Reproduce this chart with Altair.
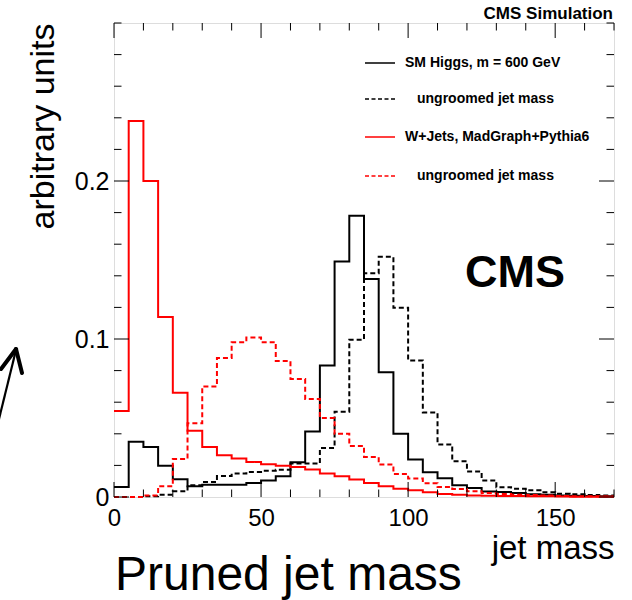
import altair as alt
import pandas as pd

# ---------------- data ----------------
bin_edges = list(range(0, 170, 5))  # left edges of 5-unit bins, 0..165
x_max = 170

higgs_pruned = [0.0064, 0.035, 0.0316, 0.0197, 0.0112, 0.0068, 0.0078, 0.0078, 0.0078, 0.0089,
                0.0104, 0.0131, 0.022, 0.0414, 0.0832, 0.149, 0.178, 0.138, 0.079, 0.040,
                0.0238, 0.0156, 0.0119, 0.0075, 0.0057, 0.0035, 0.0032, 0.0025, 0.0017, 0.0015,
                0.0010, 0.0008, 0.0006, 0.0004]
higgs_ungroomed = [0.0, 0.0, 0.0004, 0.0015, 0.0036, 0.0074, 0.0095, 0.0133, 0.0148, 0.0159,
                   0.0166, 0.0172, 0.0212, 0.0212, 0.031, 0.054, 0.0996, 0.1416, 0.152, 0.1197,
                   0.0864, 0.0535, 0.0333, 0.0227, 0.0161, 0.0105, 0.0062, 0.0053, 0.0042, 0.003,
                   0.0021, 0.0017, 0.0013, 0.001]
wjets_pruned = [0.0545, 0.238, 0.200, 0.114, 0.066, 0.042, 0.0316, 0.0265, 0.0244, 0.0222,
                0.0208, 0.0197, 0.0190, 0.0174, 0.0149, 0.0132, 0.011, 0.0089, 0.0068, 0.0052,
                0.0042, 0.003, 0.0019, 0.0015, 0.001, 0.0008, 0.0006, 0.0006, 0.0004, 0.0004,
                0.0003, 0.0002, 0.0002, 0.0002]
wjets_ungroomed = [0.0, 0.0, 0.001, 0.0068, 0.024, 0.0466, 0.070, 0.088, 0.098, 0.101,
                   0.098, 0.086, 0.0747, 0.062, 0.050, 0.040, 0.0323, 0.0253, 0.0206, 0.0146,
                   0.0117, 0.0087, 0.0064, 0.0051, 0.0036, 0.0025, 0.0019, 0.0015, 0.0012, 0.0009,
                   0.0007, 0.0005, 0.0004, 0.0003]

series_labels = ["SM Higgs, m = 600 GeV", "ungroomed jet mass",
                 "W+Jets, MadGraph+Pythia6", "ungroomed jet mass"]
x_tick_labels = [0, 50, 100, 150]
y_tick_labels = [0, 0.1, 0.2]
x_minor_ticks = list(range(0, 171, 10))
y_minor_ticks = [round(0.02 * i, 2) for i in range(0, 16)]

# ---------------- layout ----------------
W, H = 500, 474
FONT = "Liberation Sans"
MAJ, MIN = 15, 7.5

xscale = alt.Scale(domain=[0, x_max], nice=False, zero=False)
yscale = alt.Scale(domain=[0, 0.3], nice=False)

x_axis = alt.Axis(values=x_tick_labels, title="jet mass", titleFont=FONT, titleFontSize=33,
                  titleFontWeight="normal", titleColor="black", titleX=W, titleY=61,
                  titleAlign="right", titleBaseline="alphabetic",
                  labelFont=FONT, labelFontSize=24, labelColor="black", labelPadding=9,
                  labelFlush=False, labelOverlap=False, ticks=False, domain=False, grid=False)
y_axis = alt.Axis(values=y_tick_labels, title="arbitrary units", titleFont=FONT, titleFontSize=34,
                  titleFontWeight="normal", titleColor="black", titleAngle=270, titleX=-61,
                  titleY=0, titleAlign="right", titleBaseline="alphabetic",
                  labelExpr="datum.value == 0 ? '0' : format(datum.value, '.1f')",
                  labelFont=FONT, labelFontSize=25, labelColor="black", labelPadding=5,
                  labelFlush=False, labelOverlap=False, ticks=False, domain=False, grid=False)


def X(field):
    return alt.X(field, type="quantitative", scale=xscale, axis=x_axis)


def Y(field):
    return alt.Y(field, type="quantitative", scale=yscale, axis=y_axis)


def step_df(vals):
    xs = bin_edges + [x_max]
    ys = vals + [vals[-1]]
    return pd.DataFrame({"x": xs, "y": ys, "i": list(range(len(xs)))})


hist_specs = [
    (higgs_pruned, "black", [1, 0]),
    (higgs_ungroomed, "black", [5, 3]),
    (wjets_pruned, "#ff0000", [1, 0]),
    (wjets_ungroomed, "#ff0000", [5, 3]),
]

layers = []
for vals, col, dash in hist_specs:
    layers.append(
        alt.Chart(step_df(vals)).mark_line(interpolate="step-after", color=col, strokeWidth=2,
                                           strokeDash=dash)
        .encode(x=X("x"), y=Y("y"), order=alt.Order("i:Q"))
    )

# ticks drawn inside the frame (ROOT style)
xt = pd.DataFrame({"t": x_minor_ticks})
xt["len"] = [MAJ if v in x_tick_labels else MIN for v in x_minor_ticks]
yt = pd.DataFrame({"t": y_minor_ticks})
yt["len"] = [MAJ if any(abs(v - m) < 1e-9 for m in y_tick_labels) else MIN for v in y_minor_ticks]

for sub in (xt[xt["len"] == MAJ], xt[xt["len"] == MIN]):
    L = float(sub["len"].iloc[0])
    layers.append(alt.Chart(sub).mark_rule(color="black", strokeWidth=1)
                  .encode(x=X("t"), y=alt.value(H), y2=alt.value(H - L)))
    layers.append(alt.Chart(sub).mark_rule(color="black", strokeWidth=1)
                  .encode(x=X("t"), y=alt.value(0), y2=alt.value(L)))
for sub in (yt[yt["len"] == MAJ], yt[yt["len"] == MIN]):
    L = float(sub["len"].iloc[0])
    layers.append(alt.Chart(sub).mark_rule(color="black", strokeWidth=1)
                  .encode(y=Y("t"), x=alt.value(0), x2=alt.value(L)))
    layers.append(alt.Chart(sub).mark_rule(color="black", strokeWidth=1)
                  .encode(y=Y("t"), x=alt.value(W), x2=alt.value(W - L)))

one = pd.DataFrame({"k": [0]})


def txt(text, x, y, size, bold=False, align="left", baseline="alphabetic", color="black"):
    return alt.Chart(one).mark_text(text=text, font=FONT, fontSize=size,
                                    fontWeight="bold" if bold else "normal", align=align,
                                    baseline=baseline, color=color).encode(
        x=alt.value(x), y=alt.value(y))


def seg(x1, y1, x2, y2, color="black", width=1.5, dash=None, cap="butt"):
    kw = dict(color=color, strokeWidth=width, strokeCap=cap)
    if dash:
        kw["strokeDash"] = dash
    return alt.Chart(one).mark_rule(**kw).encode(
        x=alt.value(x1), y=alt.value(y1), x2=alt.value(x2), y2=alt.value(y2))


# legend (manual, ROOT TLegend look)
leg_rows = [40, 76, 114, 153]
leg_cols = ["black", "black", "#ff0000", "#ff0000"]
leg_dash = [None, [4, 2.5], None, [4, 2.5]]
leg_text_x = [291, 303, 291, 303]
for r, lab, c, d, tx in zip(leg_rows, series_labels, leg_cols, leg_dash, leg_text_x):
    layers.append(seg(251, r, 281, r, color=c, width=1.5, dash=d))
    layers.append(txt(lab, tx, r, 14, bold=True, baseline="middle"))

layers.append(txt("CMS Simulation", W - 1, -4, 17, bold=True, align="right"))
layers.append(txt("CMS", 351, 264, 45, bold=True))
layers.append(txt("Pruned jet mass", 1, 567, 48))

# hand-drawn arrow at the left margin
layers.append(seg(-116, 400, -98, 327, width=2.2))
layers.append(seg(-98, 326, -113, 346, width=4, cap="round"))
layers.append(seg(-98, 326, -92, 350, width=4, cap="round"))

chart = alt.layer(*layers).properties(
    width=W, height=H,
    autosize=alt.AutoSizeParams(type="none"),
    padding={"left": 114, "top": 23, "right": 18, "bottom": 103},
).configure_view(stroke="black", strokeWidth=2).configure(background="white")

chart.save("out.html", embed_options={"renderer": "svg", "actions": False})
